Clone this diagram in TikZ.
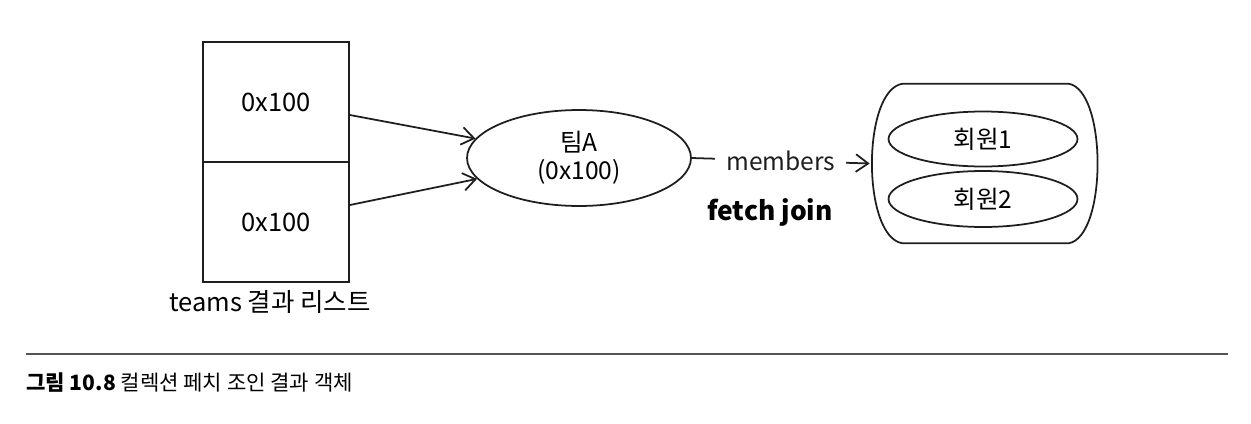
\documentclass[tikz,border=0pt]{standalone}
\usepackage{fontspec}
\setmainfont{Noto Sans CJK KR}
\usepackage{xcolor}
\usepackage{tikz}
\usetikzlibrary{arrows.meta, positioning, shapes.geometric}
\definecolor{inkgray}{HTML}{1E1E1E}
\definecolor{rulegray}{HTML}{555555}

\begin{document}
\begin{tikzpicture}[x=0.02cm, y=-0.02cm,
    cell/.style={rectangle, draw=inkgray, line width=1pt, minimum width=2.92cm, minimum height=2.4cm, font=\fontsize{14.5}{16}\selectfont},
    obj/.style={ellipse, draw=inkgray, line width=1pt, inner sep=0pt, align=center, font=\fontsize{14}{16}\selectfont},
    arr/.style={-{Straight Barb[length=7pt, width=10pt]}, line width=1pt, color=inkgray}
]
    \useasboundingbox (0,0) rectangle (1251,423);

    % result list
    \node[cell] (cell1) at (276,102) {0x100};
    \node[cell] (cell2) at (276,222) {0x100};
    \node[font=\fontsize{14.5}{16}\selectfont] (listcap) at (270,302) {teams 결과 리스트};

    % team object
    \node[obj, minimum width=4.48cm, minimum height=1.92cm] (team) at (579,158) {팀A\\(0x100)};

    \draw[arr] ([yshift=-0.26cm]cell1.east) -- (team);
    \draw[arr] ([yshift=0.34cm]cell2.east) -- (team);

    % member collection
    \node[rectangle, minimum width=4.54cm, minimum height=3.18cm] (coll) at (983.5,163.5) {};
    \draw[line width=1pt, color=inkgray]
        ([xshift=0.66cm]coll.north west) -- ([xshift=-0.58cm]coll.north east)
        .. controls ([xshift=0.2cm, yshift=-0.12cm]coll.north east) and ([xshift=0.2cm, yshift=0.12cm]coll.south east) .. ([xshift=-0.58cm]coll.south east)
        -- ([xshift=0.66cm]coll.south west)
        .. controls ([xshift=-0.16cm, yshift=0.12cm]coll.south west) and ([xshift=-0.16cm, yshift=-0.12cm]coll.north west) .. cycle;
    \node[obj, minimum width=3.78cm, minimum height=1.1cm] (mem1) at (983,139) {회원1};
    \node[obj, minimum width=3.78cm, minimum height=1.12cm] (mem2) at (983,199) {회원2};

    \draw[arr] (team.east) -- node[fill=white, inner xsep=0.22cm, font=\fontsize{14}{16}\selectfont] (memlabel) {members} (coll.west);
    \node[font=\bfseries\fontsize{15}{18}\selectfont] (fetch) at (770,212) {fetch join};

    % figure caption
    \draw[line width=0.9pt, color=rulegray] (26,354) -- (1228,354);
    \node[anchor=west, inner sep=0pt, font=\fontsize{12}{14}\selectfont] (figcap) at (26,383) {\textbf{그림 10.8} 컬렉션 페치 조인 결과 객체};
\end{tikzpicture}
\end{document}
